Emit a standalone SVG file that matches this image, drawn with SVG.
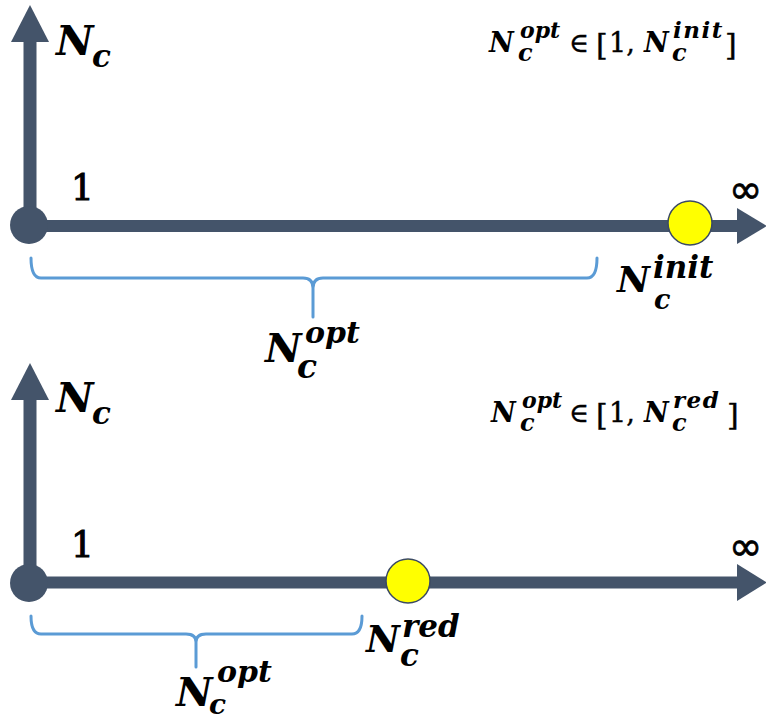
<svg xmlns="http://www.w3.org/2000/svg" width="766" height="720" viewBox="0 0 766 720">
<style>
.ax{fill:#44546A}
.ln{stroke:#44546A;stroke-width:12;fill:none}
.br{fill:none;stroke:#5B9BD5;stroke-width:3;stroke-linecap:round;stroke-linejoin:round}
.pt{fill:#FFFF00;stroke:#3B4A63;stroke-width:1.5}
.mi{font-family:"DejaVu Serif",serif;font-weight:bold;font-style:italic;fill:#000}
.mr{font-family:"DejaVu Serif",serif;fill:#000;stroke:#000;stroke-width:0.4}
.one{font-family:"DejaVu Serif",serif;fill:#000;stroke:#000;stroke-width:1}
.inf{font-family:"DejaVu Sans",sans-serif;fill:#000;stroke:#000;stroke-width:0.8}
</style>
<rect width="766" height="720" fill="#fff"/>
<g id="connectors">
  <line class="ln" x1="30" y1="226" x2="740" y2="226"/>
  <polygon class="ax" points="737,208 767,226 737,244"/>
  <rect class="ax" x="23.5" y="40" width="13" height="186"/>
  <polygon class="ax" points="30,5 49,42 11,42"/>
  <line class="ln" x1="30" y1="582.5" x2="740" y2="582.5"/>
  <polygon class="ax" points="737,564 767,582.5 737,601"/>
  <rect class="ax" x="23.5" y="398" width="13" height="185"/>
  <polygon class="ax" points="30,363 49,400 11,400"/>
  <path class="br" d="M31,258 Q31,278 41,278 L303,278 Q313,278 313,288 L313,317 M313,288 Q313,278 323,278 L587,278 Q597,278 597,258"/>
  <path class="br" d="M31,616 Q31,634 41,634 L186,634 Q196,634 196,642 L196,667 M196,642 Q196,634 206,634 L352,634 Q362,634 362,616"/>
</g>
<g id="origin-top"><circle class="ax" cx="29" cy="225" r="19"/></g>
<g id="origin-bottom"><circle class="ax" cx="29" cy="583" r="19"/></g>
<g id="point-init"><circle class="pt" cx="690" cy="223" r="22"/></g>
<g id="point-red"><circle class="pt" cx="408" cy="581" r="22"/></g>
<g id="labels-top">
  <text class="mi" x="56" y="55" font-size="41">N</text>
  <text class="mi" x="92" y="67" font-size="31">c</text>
  <text class="one" x="71" y="200" font-size="36">1</text>
  <text class="inf" x="729" y="203" font-size="40">∞</text>
  <text class="mi" x="489" y="52" font-size="27">N</text>
  <text class="mi" x="520" y="38" font-size="22">opt</text>
  <text class="mi" x="518" y="61" font-size="24">c</text>
  <text class="mr" x="569" y="52" font-size="27">∈</text>
  <text class="mr" x="596" y="55" font-size="30">[</text>
  <text class="mr" x="609" y="52" font-size="27">1,</text>
  <text class="mi" x="644" y="52" font-size="27">N</text>
  <text class="mi" x="673" y="38" font-size="23" letter-spacing="1.5">init</text>
  <text class="mi" x="672" y="61" font-size="24">c</text>
  <text class="mr" x="725" y="55" font-size="30">]</text>
  <text class="mi" x="265" y="362" font-size="40">N</text>
  <text class="mi" x="305" y="343" font-size="30">opt</text>
  <text class="mi" x="297" y="378" font-size="33">c</text>
  <text class="mi" x="617" y="292" font-size="36">N</text>
  <text class="mi" x="653" y="278" font-size="31">init</text>
  <text class="mi" x="654" y="309" font-size="27">c</text>
</g>
<g id="labels-bottom">
  <text class="mi" x="56" y="412" font-size="41">N</text>
  <text class="mi" x="92" y="424" font-size="31">c</text>
  <text class="one" x="71" y="557" font-size="36">1</text>
  <text class="inf" x="729" y="560" font-size="40">∞</text>
  <text class="mi" x="491" y="422" font-size="27">N</text>
  <text class="mi" x="522" y="408" font-size="22">opt</text>
  <text class="mi" x="520" y="431" font-size="24">c</text>
  <text class="mr" x="569" y="422" font-size="27">∈</text>
  <text class="mr" x="596" y="425" font-size="30">[</text>
  <text class="mr" x="609" y="422" font-size="27">1,</text>
  <text class="mi" x="644" y="422" font-size="27">N</text>
  <text class="mi" x="673" y="408" font-size="23" letter-spacing="1.5">red</text>
  <text class="mi" x="672" y="431" font-size="24">c</text>
  <text class="mr" x="727" y="425" font-size="30">]</text>
  <text class="mi" x="366" y="652" font-size="37">N</text>
  <text class="mi" x="402" y="637" font-size="31">red</text>
  <text class="mi" x="400" y="666" font-size="31">c</text>
  <text class="mi" x="176" y="706" font-size="40">N</text>
  <text class="mi" x="217" y="682" font-size="30">opt</text>
  <text class="mi" x="209" y="714" font-size="28">c</text>
</g>
</svg>
